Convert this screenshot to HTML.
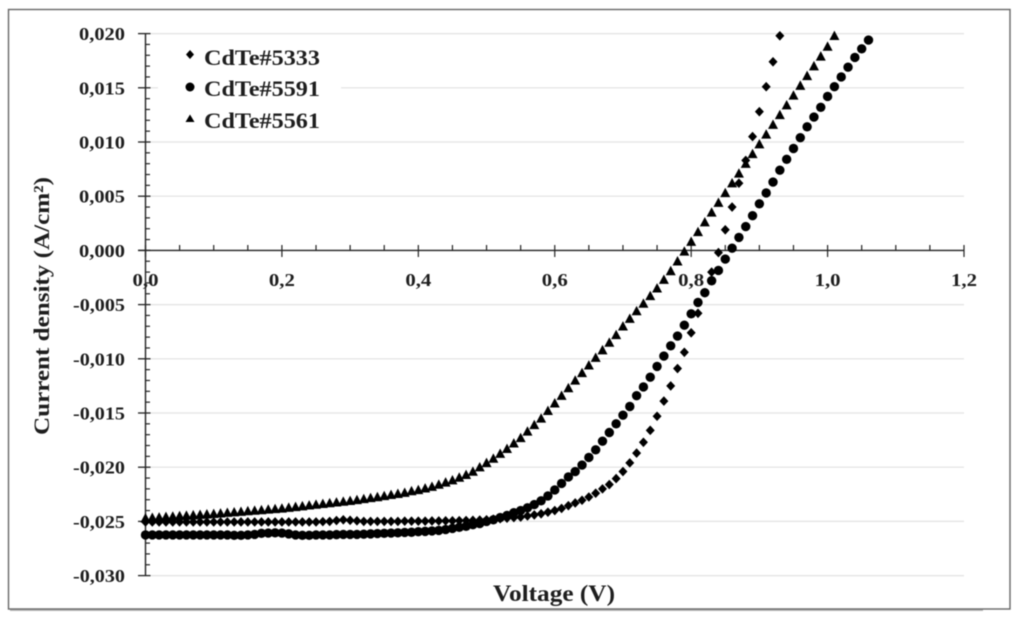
<!DOCTYPE html>
<html lang="en">
<head>
<meta charset="utf-8">
<title>CdTe J-V chart</title>
<style>
html,body{margin:0;padding:0;background:#fff;width:1024px;height:623px;overflow:hidden}
svg{display:block;filter:blur(0.6px)}
text{font-family:"Liberation Serif",serif;font-weight:bold;fill:#1e1e1e}
</style>
</head>
<body>
<svg id="chart" width="1024" height="623" viewBox="0 0 1024 623" xmlns="http://www.w3.org/2000/svg">
<rect x="10" y="606" width="973" height="5" fill="#b8b8b8"/>
<rect x="8.5" y="9.5" width="1001.5" height="599.5" fill="#fff" stroke="#666" stroke-width="1.4"/>
<g id="grid"></g>
<rect x="158" y="40" width="183" height="100" fill="#fff"/>
<g id="axes"></g>
<g id="marks"></g>
<g>
<g>
<path d="M190 50l4 4.500-4 4.500-4-4.500z" fill="#000"/>
<text x="204" y="65" font-size="22.500" textLength="116" lengthAdjust="spacingAndGlyphs">CdTe#5333</text>
</g>
<g>
<circle cx="190" cy="87" r="4.500" fill="#000"/>
<text x="204" y="96" font-size="22.500" textLength="116" lengthAdjust="spacingAndGlyphs">CdTe#5591</text>
</g>
<g>
<path d="M190 114.500l4.500 7.500h-9z" fill="#000"/>
<text x="204" y="128" font-size="22.500" textLength="116" lengthAdjust="spacingAndGlyphs">CdTe#5561</text>
</g>
</g>
<text transform="translate(49 435) rotate(-90)" font-size="22" textLength="258" lengthAdjust="spacingAndGlyphs">Current density (A/cm²)</text>
<text x="493" y="601" font-size="23" textLength="122" lengthAdjust="spacingAndGlyphs">Voltage (V)</text>
</svg>
<script>
const voltages = [0,0.01,0.02,0.03,0.04,0.05,0.06,0.07,0.08,0.09,0.10,0.11,0.12,0.13,0.14,0.15,0.16,0.17,0.18,0.19,0.20,0.21,0.22,0.23,0.24,0.25,0.26,0.27,0.28,0.29,0.30,0.31,0.32,0.33,0.34,0.35,0.36,0.37,0.38,0.39,0.40,0.41,0.42,0.43,0.44,0.45,0.46,0.47,0.48,0.49,0.50,0.51,0.52,0.53,0.54,0.55,0.56,0.57,0.58,0.59,0.60,0.61,0.62,0.63,0.64,0.65,0.66,0.67,0.68,0.69,0.70,0.71,0.72,0.73,0.74,0.75,0.76,0.77,0.78,0.79,0.80,0.81,0.82,0.83,0.84,0.85,0.86,0.87,0.88,0.89,0.90,0.91,0.92,0.93,0.94,0.95,0.96,0.97,0.98,0.99,1.00,1.01,1.02,1.03,1.04,1.05,1.06];
const cdte5333 = [-25.05,-25.05,-25.05,-25.05,-25.05,-25.05,-25.05,-25.05,-25.05,-25.05,-25.05,-25.05,-25.05,-25.05,-25.05,-25.05,-25.05,-25.05,-25.05,-25.05,-25.05,-25.05,-25.05,-25.05,-25.05,-25.05,-25.02,-25.0,-24.92,-24.85,-24.9,-24.95,-25.0,-25.0,-25.0,-25.0,-25.0,-25.0,-24.98,-24.98,-24.98,-24.98,-24.96,-24.96,-24.95,-24.95,-24.93,-24.92,-24.9,-24.88,-24.85,-24.8,-24.75,-24.7,-24.65,-24.6,-24.5,-24.4,-24.3,-24.15,-24.0,-23.8,-23.55,-23.3,-23.05,-22.75,-22.4,-22.0,-21.6,-21.05,-20.4,-19.6,-18.7,-17.7,-16.6,-15.3,-13.9,-12.5,-10.9,-9.4,-7.6,-5.8,-3.9,-2.0,-0.2,1.9,4.0,6.2,8.3,10.5,12.8,15.1,17.4,19.8];
const cdte5591 = [-26.25,-26.25,-26.25,-26.25,-26.25,-26.25,-26.25,-26.25,-26.25,-26.25,-26.25,-26.25,-26.25,-26.28,-26.28,-26.25,-26.2,-26.1,-26.08,-26.05,-26.08,-26.15,-26.25,-26.28,-26.28,-26.25,-26.25,-26.25,-26.22,-26.2,-26.2,-26.2,-26.18,-26.15,-26.12,-26.1,-26.08,-26.05,-26.02,-26.0,-25.95,-25.92,-25.88,-25.83,-25.75,-25.65,-25.55,-25.45,-25.3,-25.2,-25.0,-24.85,-24.65,-24.45,-24.2,-24.0,-23.75,-23.45,-23.1,-22.65,-22.1,-21.5,-20.9,-20.4,-19.8,-19.1,-18.4,-17.6,-16.8,-16.0,-15.2,-14.4,-13.4,-12.6,-11.7,-10.7,-9.75,-8.8,-7.9,-6.9,-5.85,-4.8,-3.9,-2.8,-1.85,-0.8,0.2,1.2,2.2,3.2,4.3,5.3,6.3,7.4,8.4,9.4,10.4,11.4,12.3,13.2,14.2,15.1,16.0,16.9,17.8,18.6,19.4];
const cdte5561 = [-24.7,-24.66,-24.62,-24.58,-24.54,-24.5,-24.46,-24.42,-24.38,-24.34,-24.3,-24.25,-24.2,-24.15,-24.1,-24.05,-24.0,-23.95,-23.9,-23.85,-23.8,-23.73,-23.66,-23.59,-23.52,-23.45,-23.38,-23.31,-23.24,-23.17,-23.1,-23.02,-22.93,-22.84,-22.75,-22.65,-22.55,-22.45,-22.35,-22.2,-22.1,-21.95,-21.8,-21.6,-21.4,-21.2,-20.95,-20.7,-20.4,-20.0,-19.6,-19.2,-18.75,-18.3,-17.8,-17.3,-16.7,-16.1,-15.5,-14.8,-14.1,-13.4,-12.7,-12.0,-11.3,-10.6,-9.9,-9.2,-8.5,-7.8,-7.0,-6.3,-5.6,-4.9,-4.2,-3.5,-2.7,-1.9,-1.0,-0.1,0.8,1.7,2.6,3.5,4.4,5.3,6.2,7.1,8.0,8.9,9.8,10.7,11.6,12.5,13.4,14.3,15.2,16.1,17.0,17.9,18.8,19.8];
const xTickValues = [0,0.2,0.4,0.6,0.8,1.0,1.2];
const xTickLabels = ["0,0","0,2","0,4","0,6","0,8","1,0","1,2"];
const xMinorValues = [0.05,0.1,0.15,0.25,0.3,0.35,0.45,0.5,0.55,0.65,0.7,0.75,0.85,0.9,0.95,1.05,1.1,1.15];
const yTickValues = [20,15,10,5,0,-5,-10,-15,-20,-25,-30];
const yTickLabels = ["0,020","0,015","0,010","0,005","0,000","-0,005","-0,010","-0,015","-0,020","-0,025","-0,030"];
const yMinorValues = [19,18,17,16,14,13,12,11,9,8,7,6,4,3,2,1,-1,-2,-3,-4,-6,-7,-8,-9,-11,-12,-13,-14,-16,-17,-18,-19,-21,-22,-23,-24,-26,-27,-28,-29];

const NS = 'http://www.w3.org/2000/svg';
function xAxis(v){ return 145.5 + v * (964 - 145.5) / 1.2; }
function yAxis(j){ return 250.4 - j * 10.84; }
function make(tag, attrs, parent){
  const el = document.createElementNS(NS, tag);
  for (const k in attrs) el.setAttribute(k, attrs[k]);
  parent.appendChild(el);
  return el;
}
const gridG = document.getElementById('grid');
const axesG = document.getElementById('axes');
const marksG = document.getElementById('marks');

yTickValues.forEach(function(v, i){
  if (v !== 0) {
    const g = make('line', {x1:150, x2:964, y1:yAxis(v), y2:yAxis(v), stroke:'#e2e2e2', 'stroke-width':1.2}, gridG);
    
    
  }
  const t = make('line', {x1:138, x2:150.5, y1:yAxis(v), y2:yAxis(v), stroke:'#222', 'stroke-width':1.3}, axesG);
  
  
  const lab = make('text', {x:125, y:yAxis(v) + 6.5, 'text-anchor':'end', 'font-size':18, textLength: yTickLabels[i].length > 5 ? 52 : 46, lengthAdjust:'spacingAndGlyphs'}, axesG);
  lab.textContent = yTickLabels[i];
  
  
});
yMinorValues.forEach(function(v){
  const t = make('line', {x1:145.5, x2:150, y1:yAxis(v), y2:yAxis(v), stroke:'#222', 'stroke-width':1.2}, axesG);
  
  
});
const yLine = make('line', {x1:xAxis(0), x2:xAxis(0), y1:yAxis(20), y2:yAxis(-30), stroke:'#222', 'stroke-width':1.4}, axesG);


const xLine = make('line', {x1:138, x2:xAxis(1.2), y1:yAxis(0), y2:yAxis(0), stroke:'#222', 'stroke-width':1.4}, axesG);


xTickValues.forEach(function(v, i){
  const t = make('line', {x1:xAxis(v), x2:xAxis(v), y1:245, y2:257, stroke:'#222', 'stroke-width':1.2}, axesG);
  
  
  const lab = make('text', {x:xAxis(v), y:286, 'text-anchor':'middle', 'font-size':18, textLength:26, lengthAdjust:'spacingAndGlyphs'}, axesG);
  lab.textContent = xTickLabels[i];
  
  
});
xMinorValues.forEach(function(v){
  const t = make('line', {x1:xAxis(v), x2:xAxis(v), y1:245, y2:250, stroke:'#222', 'stroke-width':1.2}, axesG);
  
  
});

cdte5333.forEach(function(j, i){
  const x = xAxis(voltages[i]), y = yAxis(j);
  const m = make('path', {d:'M' + x + ' ' + (y - 4.8) + 'l4.500 4.800-4.500 4.800-4.500-4.800z', fill:'#000'}, marksG);
  
  
});
cdte5591.forEach(function(j, i){
  const m = make('circle', {cx:xAxis(voltages[i]), cy:yAxis(j), r:4.7, fill:'#000'}, marksG);
  
  
});
cdte5561.forEach(function(j, i){
  const x = xAxis(voltages[i]), y = yAxis(j);
  const m = make('path', {d:'M' + x + ' ' + (y - 5.2) + 'l5 9.400h-10z', fill:'#000'}, marksG);
  
  
});
</script>
</body>
</html>
